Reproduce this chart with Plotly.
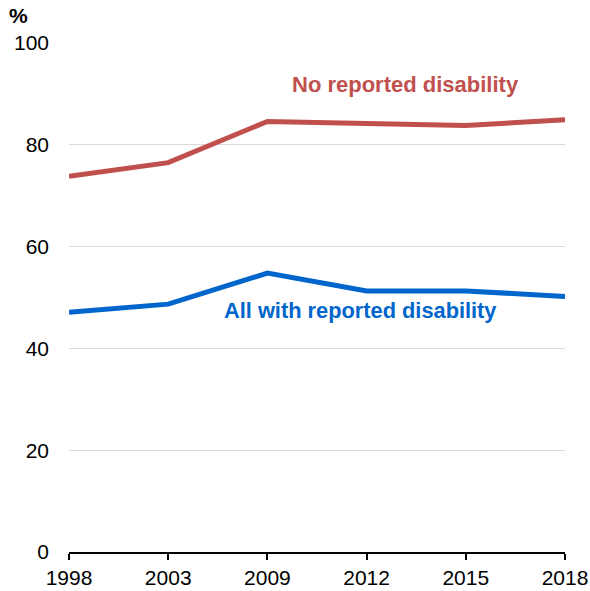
import plotly.graph_objects as go

years = ["1998", "2003", "2009", "2012", "2015", "2018"]
no_disability = [73.8, 76.5, 84.6, 84.3, 83.8, 84.9]
with_disability = [47.1, 48.7, 54.8, 51.3, 51.3, 50.2]

red = "#C0504D"
blue = "#0066CC"
font = "Liberation Sans, Arial, sans-serif"

L, R, T, B, W, H = 69, 25, 43, 39, 590, 591

fig = go.Figure()
fig.add_trace(go.Scatter(x=years, y=no_disability, mode="lines",
                         line=dict(color=red, width=5), name="No reported disability"))
fig.add_trace(go.Scatter(x=years, y=with_disability, mode="lines",
                         line=dict(color=blue, width=5), name="All with reported disability"))

fig.add_annotation(x=3.39, y=91.8, xref="x", yref="y", text="<b>No reported disability</b>",
                   showarrow=False, font=dict(color=red, size=22, family=font))
fig.add_annotation(x=2.94, y=47.5, xref="x", yref="y", text="<b>All with reported disability</b>",
                   showarrow=False, font=dict(color=blue, size=21.8, family=font))
fig.add_annotation(x=(18 - L) / (W - L - R), y=(H - B - 16) / (H - T - B),
                   xref="paper", yref="paper", xanchor="center", yanchor="middle",
                   text="<b>%</b>", showarrow=False, font=dict(color="black", size=21, family=font))

fig.update_layout(
    width=W, height=H,
    margin=dict(l=L, r=R, t=T, b=B, autoexpand=False),
    plot_bgcolor="white", paper_bgcolor="white",
    showlegend=False,
    font=dict(family=font, size=21, color="black"),
)

fig.update_xaxes(type="category", range=[0, 5], showgrid=False, automargin=False,
                 showline=True, linecolor="black", linewidth=2,
                 ticks="outside", ticklen=6, tickwidth=2, tickcolor="black",
                 tickfont=dict(size=21))
fig.update_yaxes(range=[0, 100], dtick=20, showgrid=True, gridcolor="#D9D9D9", gridwidth=1,
                 zeroline=False, showline=False, ticks="", ticklabelstandoff=19, automargin=False,
                 tickfont=dict(size=21))

fig.write_html("out.html", config={"displayModeBar": False},
               post_script="document.body.style.margin='0';document.body.style.overflow='hidden';")
